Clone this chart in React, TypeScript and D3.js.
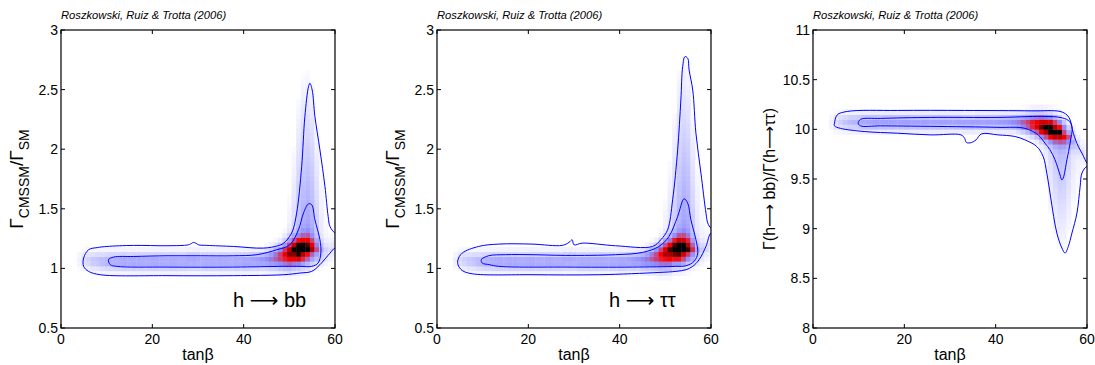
import React from "react";
import * as d3 from "d3";

// ---------- shared ----------
const X_TICKS = [0, 20, 40, 60];
const Y_TICKS_RATIO = [0.5, 1, 1.5, 2, 2.5, 3];
const Y_TICKS_BR = [8, 8.5, 9, 9.5, 10, 10.5, 11];
const COLS = [4,5,6,7,8,9,10,11,12,13,14,15,16,17,18,19,20,21,22,23,24,25,26,27,28,29,30,31,32,33,34,35,36,37,38,39,40,41,42,43,44,45,46,47,48,49,50,51,52,53,54,55,56,57,58,59,60];
const CITATION = "Roszkowski, Ruiz & Trotta (2006)";

// ---------- panel 1 : h -> bb ----------
const BB_CENTER = [1.07,1.07,1.07,1.065,1.065,1.06,
  1.06,1.06,1.06,1.06,1.06,1.06,1.06,1.06,1.06,1.06,
  1.06,1.06,1.06,1.06,1.06,1.06,1.06,1.06,1.065,1.065,
  1.065,1.06,1.06,1.06,1.06,1.06,1.06,1.06,1.06,1.06,
  1.06,1.06,1.065,1.065,1.07,
  1.075,1.08,1.09,1.10,1.11,1.12,1.135,1.14,1.145,1.15,1.15,1.14,1.13,1.13,1.15,1.17];
const BB_SIGMA = [0.05,0.05,0.05,0.05,0.05,0.05,0.05,0.05,0.05,0.05,0.05,0.05,0.05,0.05,0.05,0.05,0.05,0.05,0.05,0.05,
  0.05,0.05,0.05,0.05,0.05,0.05,0.05,0.05,0.05,0.05,0.05,0.05,0.05,0.05,0.05,0.05,0.05,0.05,0.05,0.05,0.05,
  0.053,0.057,0.062,0.068,0.074,0.078,0.078,0.076,0.076,0.076,0.072,0.068,0.062,0.06,0.06,0.06];
const BB_AMP = [0.05,0.12,0.16,0.2,0.22,0.25,0.27,0.29,0.3,
  0.31,0.32,0.31,0.32,0.32,0.31,0.31,0.32,0.32,0.31,0.31,0.32,0.32,0.31,0.31,0.32,0.32,0.31,0.31,0.32,0.32,0.31,0.32,0.32,0.31,0.32,0.32,0.33,
  0.33,0.34,0.35,0.37,0.4,0.44,0.5,0.58,0.68,0.8,0.9,1.0,0.86,0.72,0.52,0.34,0.2,0.12,0.09,0.08];
const BB_PLUME_COLS = [49,50,51,52,53,54,55,56,57,58,59,60];
const BB_PLUME_AMP = [0.04,0.09,0.16,0.26,0.34,0.37,0.32,0.2,0.1,0.05,0.03,0.03];
const BB_PLUME_END = [1.45,1.7,2.1,2.5,2.68,2.72,2.65,2.3,1.9,1.55,1.45,1.4];
const BB_OUTER: [number, number][] = [[4.96,1.087],[6.05,1.157],[8,1.175],[10.06,1.184],[15.9,1.193],[23.2,1.19],[27.9,1.198],[28.6,1.21],[29.0,1.218],[29.6,1.21],[30.1,1.198],[31.9,1.193],[37.8,1.184],[44.3,1.17],[47.5,1.19],[48.7,1.21],[50.5,1.296],[51.6,1.464],[52.7,1.855],[53.4,2.274],[54.2,2.525],[54.5,2.553],[55.0,2.497],[55.6,2.274],[56.7,1.994],[57.8,1.687],[58.5,1.436],[58.9,1.352],[60,1.296],[61,1.28],[61,1.15],[60,1.17],[58.9,1.128],[56.7,1.031],[54.9,0.975],[52.3,0.961],[48.7,0.947],[37.8,0.939],[23.2,0.939],[8.6,0.947],[6.05,0.975],[4.96,1.017]];
const BB_INNER: [number, number][] = [[10.4,1.073],[11.5,1.095],[15.9,1.10],[23.2,1.106],[30.5,1.106],[37.8,1.106],[42.9,1.115],[47.2,1.156],[50.1,1.198],[52.0,1.324],[53.1,1.464],[54.2,1.542],[54.9,1.534],[55.6,1.408],[56.7,1.24],[56.9,1.128],[56.3,1.045],[54.9,1.017],[52.3,1.017],[48.7,1.017],[37.8,1.011],[23.2,1.011],[12.2,1.017],[10.8,1.031]];

// ---------- panel 2 : h -> tautau ----------
const TT_CENTER = [1.07,1.07,1.07,1.065,1.065,1.06,
  1.06,1.06,1.06,1.06,1.06,1.06,1.06,1.06,1.06,1.06,
  1.06,1.06,1.06,1.06,1.06,1.06,1.06,1.06,1.065,1.065,
  1.065,1.06,1.06,1.06,1.06,1.06,1.06,1.06,1.06,1.06,
  1.06,1.06,1.065,1.065,1.07,
  1.07,1.075,1.085,1.095,1.105,1.12,1.13,1.145,1.15,1.15,1.15,1.14,1.13,1.14,1.16,1.18];
const TT_SIGMA = BB_SIGMA;
const TT_AMP = [0.06,0.13,0.17,0.2,0.22,0.25,0.27,0.29,0.3,
  0.31,0.32,0.31,0.32,0.32,0.31,0.31,0.32,0.32,0.31,0.31,0.32,0.32,0.31,0.31,0.32,0.32,0.31,0.31,0.32,0.32,0.31,0.32,0.32,0.31,0.32,0.32,0.33,
  0.33,0.34,0.36,0.38,0.41,0.45,0.5,0.57,0.66,0.76,0.86,0.94,1.0,0.82,0.62,0.4,0.23,0.13,0.09,0.08];
const TT_PLUME_COLS = [49,50,51,52,53,54,55,56,57,58,59,60];
const TT_PLUME_AMP = [0.04,0.08,0.14,0.22,0.31,0.37,0.34,0.22,0.11,0.06,0.04,0.03];
const TT_PLUME_END = [1.45,1.7,2.0,2.4,2.75,2.85,2.8,2.4,2.0,1.65,1.5,1.45];
const TT_OUTER: [number, number][] = [[4.6,1.073],[5.5,1.128],[9.1,1.184],[13.5,1.204],[20.8,1.204],[27.4,1.193],[28.9,1.218],[29.6,1.24],[30.0,1.198],[31.8,1.212],[39.1,1.19],[47.2,1.184],[49.0,1.24],[50.5,1.324],[51.6,1.575],[52.7,1.994],[53.4,2.413],[53.8,2.693],[54.3,2.777],[54.9,2.763],[55.2,2.665],[56.0,2.497],[56.7,2.134],[57.8,1.799],[58.9,1.464],[59.3,1.38],[60,1.338],[61,1.33],[61,1.27],[60,1.296],[58.9,1.184],[57.4,1.073],[56.0,1.017],[54.5,0.989],[52.3,0.975],[48.6,0.966],[35.5,0.947],[20.8,0.947],[7.7,0.955],[5.5,0.983],[4.6,1.031]];
const TT_INNER: [number, number][] = [[9.7,1.073],[11.3,1.106],[15.0,1.115],[20.8,1.115],[28.2,1.109],[39.1,1.115],[45.0,1.134],[48.6,1.184],[50.8,1.268],[52.7,1.436],[54.1,1.584],[54.9,1.547],[55.6,1.408],[56.7,1.24],[57.1,1.128],[56.3,1.059],[54.5,1.022],[52.3,1.017],[42.8,1.011],[28.2,1.011],[13.5,1.017],[11.5,1.031],[9.9,1.045]];

// ---------- panel 3 : BR ratio ----------
const BR_CENTER = [10.07,10.07,10.075,10.075,10.075,10.075,
  10.075,10.075,10.075,10.075,10.075,10.075,10.075,10.075,10.075,10.075,
  10.075,10.075,10.075,10.075,10.075,10.075,10.075,10.075,10.075,10.075,
  10.075,10.075,10.075,10.07,10.07,10.07,10.075,10.075,10.075,10.075,
  10.075,10.075,10.075,10.075,10.075,
  10.07,10.065,10.06,10.055,10.045,10.035,10.025,10.015,10.0,9.99,9.97,9.94,9.9,9.85,9.8,9.75];
const BR_SIGMA = [0.055,0.055,0.055,0.055,0.055,0.055,0.055,0.055,0.055,0.055,0.055,0.055,0.055,0.055,0.055,0.055,0.055,0.055,0.055,0.055,
  0.055,0.055,0.055,0.055,0.055,0.055,0.055,0.055,0.055,0.055,0.055,0.055,0.055,0.055,0.055,0.055,0.055,0.055,0.055,0.055,0.055,
  0.058,0.062,0.067,0.072,0.076,0.08,0.08,0.08,0.08,0.078,0.075,0.07,0.066,0.065,0.065,0.065];
const BR_AMP = [0.05,0.12,0.17,0.21,0.24,0.26,0.28,0.3,0.31,
  0.32,0.33,0.32,0.33,0.33,0.32,0.32,0.33,0.33,0.32,0.32,0.33,0.33,0.32,0.32,0.33,0.33,0.32,0.32,0.33,0.33,0.32,0.33,0.33,0.32,0.33,0.33,0.33,
  0.34,0.35,0.37,0.4,0.44,0.5,0.57,0.66,0.76,0.86,0.92,1.0,0.86,0.74,0.54,0.34,0.2,0.11,0.07,0.06];
const BR_PLUME_COLS = [50,51,52,53,54,55,56,57,58,59,60];
const BR_PLUME_AMP = [0.06,0.11,0.18,0.25,0.29,0.27,0.19,0.11,0.07,0.05,0.04];
const BR_PLUME_END = [9.6,9.35,9.05,8.85,8.72,8.72,8.85,9.1,9.3,9.5,9.6];
const BR_OUTER: [number, number][] = [[4.7,10.06],[5.3,10.145],[7.5,10.18],[18.5,10.19],[33.2,10.19],[47.9,10.186],[54.1,10.18],[55.6,10.145],[56.3,10.095],[57.0,9.961],[58.1,9.827],[58.9,9.76],[59.6,9.693],[60,9.66],[61,9.64],[61,9.6],[60,9.626],[58.9,9.56],[58.5,9.425],[57.8,9.157],[56.7,8.955],[55.9,8.82],[55.2,8.754],[54.5,8.805],[53.4,8.955],[52.7,9.123],[51.9,9.358],[51.2,9.559],[50.4,9.726],[49.0,9.827],[46.4,9.894],[44.2,9.928],[40.5,9.944],[36.9,9.954],[35.7,9.894],[34.7,9.867],[33.6,9.867],[33.2,9.911],[32.4,9.944],[25.8,9.944],[18.5,9.961],[11.2,9.978],[6.0,10.01],[4.7,10.035]];
const BR_INNER: [number, number][] = [[9.9,10.06],[10.4,10.1],[14.8,10.11],[25.8,10.12],[40.5,10.12],[50.1,10.13],[54.1,10.12],[55.9,10.09],[56.7,10.03],[56.3,9.86],[55.6,9.693],[54.8,9.51],[54.5,9.49],[54.1,9.54],[53.0,9.693],[51.9,9.794],[50.8,9.86],[49.3,9.944],[46.4,10.01],[40.5,10.02],[25.8,10.03],[14.8,10.035],[10.4,10.035]];

const FONT = "'Liberation Sans', Arial, Helvetica, sans-serif";
const ARROW_FONT = "'DejaVu Sans', sans-serif";
const color = d3.scaleLinear<string>().domain([0, 0.4, 0.68, 0.86, 1]).range(["#ffffff", "#8c8cff", "#ff0000", "#a00000", "#000000"]).clamp(true);

type Spec = {
  id: string;
  left: number;
  yDomain: [number, number];
  yTicks: number[];
  yStep: number;
  center: number[]; sigma: number[]; amp: number[];
  plumeCols: number[]; plumeAmp: number[]; plumeEnd: number[];
  outer: [number, number][]; inner: [number, number][];
  yLabel: React.ReactNode;
  note?: [string, string];
};

const TOP = 30, PW = 274, PH = 298;

function Panel({ s }: { s: Spec }) {
  const x = d3.scaleLinear().domain([0, 60]).range([s.left, s.left + PW]);
  const y = d3.scaleLinear().domain(s.yDomain).range([TOP + PH, TOP]);
  const cells: React.ReactNode[] = [];
  const nRows = Math.round((s.yDomain[1] - s.yDomain[0]) / s.yStep);
  COLS.forEach((c, i) => {
    const pi = s.plumeCols.indexOf(c);
    for (let j = 0; j < nRows; j++) {
      const yc = s.yDomain[0] + (j + 0.5) * s.yStep;
      const z = (yc - s.center[i]) / s.sigma[i];
      let t = s.amp[i] * Math.exp(-0.5 * z * z);
      if (pi >= 0) {
        const f = (yc - s.center[i]) / (s.plumeEnd[pi] - s.center[i]);
        if (f >= 0 && f <= 1) t += s.plumeAmp[pi] * (1 - f);
      }
      if (t < 0.015) continue;
      const x0 = x(c - 0.5), x1 = x(c + 0.5);
      const y0 = y(yc + s.yStep / 2), y1 = y(yc - s.yStep / 2);
      cells.push(<rect key={c + "-" + j} x={x0} y={y0} width={x1 - x0 + 0.4} height={y1 - y0 + 0.4} fill={color(t)} />);
    }
  });
  const line = d3.line<[number, number]>().x(d => x(d[0])).y(d => y(d[1])).curve(d3.curveCatmullRomClosed.alpha(0.5));
  const bottom = TOP + PH, right = s.left + PW;
  return (
    <g>
      <defs>
        <clipPath id={"clip-" + s.id}><rect x={s.left} y={TOP} width={PW} height={PH} /></clipPath>
      </defs>
      <g clipPath={`url(#clip-${s.id})`}>
        {cells}
        <path d={line(s.outer) || ""} fill="none" stroke="#0000ff" strokeWidth={1} />
        <path d={line(s.inner) || ""} fill="none" stroke="#0000ff" strokeWidth={1} />
      </g>
      <rect x={s.left} y={TOP} width={PW} height={PH} fill="none" stroke="#000" strokeWidth={1.2} />
      {X_TICKS.map(v => (
        <g key={"xt" + v}>
          <line x1={x(v)} x2={x(v)} y1={bottom} y2={bottom - 4} stroke="#000" />
          <line x1={x(v)} x2={x(v)} y1={TOP} y2={TOP + 4} stroke="#000" />
          <text x={x(v)} y={bottom + 16} textAnchor="middle" fontSize={14} fontFamily={FONT}>{v}</text>
        </g>
      ))}
      {s.yTicks.map(v => (
        <g key={"yt" + v}>
          <line x1={s.left} x2={s.left + 4} y1={y(v)} y2={y(v)} stroke="#000" />
          <line x1={right} x2={right - 4} y1={y(v)} y2={y(v)} stroke="#000" />
          <text x={s.left - 3} y={y(v)} dy="0.36em" textAnchor="end" fontSize={14} fontFamily={FONT}>{v}</text>
        </g>
      ))}
      <text x={s.left + PW / 2} y={360} textAnchor="middle" fontSize={16} fontFamily={FONT}>tanβ</text>
      <text x={s.left} y={19} fontSize={11.2} fontStyle="italic" fontFamily={FONT}>{CITATION}</text>
      <g transform={`translate(${s.left - 38},${TOP + PH / 2}) rotate(-90)`}>
        <text x={0} y={0} textAnchor="middle" fontFamily={FONT}>{s.yLabel}</text>
      </g>
      {s.note && (
        <text x={s.left + 172} y={307} fontSize={20} fontFamily={FONT}>
          <tspan>{s.note[0]} </tspan>
          <tspan fontFamily={ARROW_FONT} fontSize={20}>⟶</tspan>
          <tspan> {s.note[1]}</tspan>
        </text>
      )}
    </g>
  );
}

const ratioLabel = (
  <>
    <tspan fontSize={19}>Γ</tspan>
    <tspan fontSize={14} dy={6}>CMSSM</tspan>
    <tspan fontSize={19} dy={-6}>/Γ</tspan>
    <tspan fontSize={14} dy={6}>SM</tspan>
  </>
);

const brLabel = (
  <>
    <tspan fontSize={16}>Γ(h</tspan>
    <tspan fontSize={16} fontFamily={ARROW_FONT}>⟶</tspan>
    <tspan fontSize={16}> bb)/Γ(h</tspan>
    <tspan fontSize={16} fontFamily={ARROW_FONT}>⟶</tspan>
    <tspan fontSize={16}>ττ)</tspan>
  </>
);

const SPECS: Spec[] = [
  { id: "bb", left: 61, yDomain: [0.5, 3], yTicks: Y_TICKS_RATIO, yStep: 0.04,
    center: BB_CENTER, sigma: BB_SIGMA, amp: BB_AMP, plumeCols: BB_PLUME_COLS, plumeAmp: BB_PLUME_AMP, plumeEnd: BB_PLUME_END,
    outer: BB_OUTER, inner: BB_INNER, yLabel: ratioLabel, note: ["h", "bb"] },
  { id: "tt", left: 437, yDomain: [0.5, 3], yTicks: Y_TICKS_RATIO, yStep: 0.04,
    center: TT_CENTER, sigma: TT_SIGMA, amp: TT_AMP, plumeCols: TT_PLUME_COLS, plumeAmp: TT_PLUME_AMP, plumeEnd: TT_PLUME_END,
    outer: TT_OUTER, inner: TT_INNER, yLabel: ratioLabel, note: ["h", "ττ"] },
  { id: "br", left: 813, yDomain: [8, 11], yTicks: Y_TICKS_BR, yStep: 0.05,
    center: BR_CENTER, sigma: BR_SIGMA, amp: BR_AMP, plumeCols: BR_PLUME_COLS, plumeAmp: BR_PLUME_AMP, plumeEnd: BR_PLUME_END,
    outer: BR_OUTER, inner: BR_INNER, yLabel: brLabel },
];

export default function App() {
  return (
    <svg width={1095} height={365} style={{ position: "absolute", left: 0, top: 0, background: "#fff" }}>
      <rect x={0} y={0} width={1095} height={365} fill="#fff" />
      {SPECS.map(s => <Panel key={s.id} s={s} />)}
    </svg>
  );
}
